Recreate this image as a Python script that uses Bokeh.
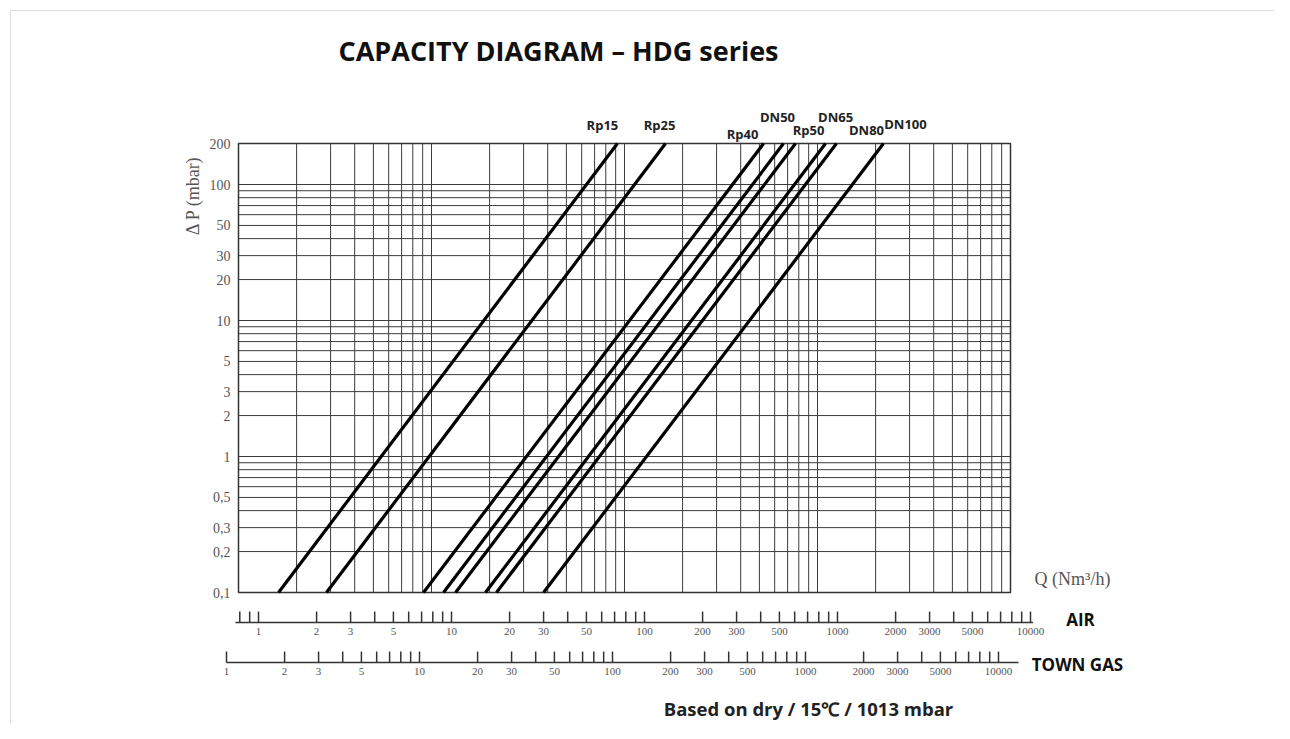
import numpy as np
from bokeh.plotting import figure
from bokeh.models import Range1d, LogScale, LinearScale, ColumnDataSource
from bokeh.embed import file_html
from bokeh.resources import INLINE
from bokeh.core.properties import value

# ---------------- data ----------------
series = ["Rp15", "Rp25", "Rp40", "DN50", "Rp50", "DN65", "DN80", "DN100"]
# AIR flow (Nm3/h) read at the two ends of each straight line
q_at_dp_min = [1.27, 2.25, 7.16, 9.09, 10.5, 15.0, 17.1, 30.0]
q_at_dp_max = [72.4, 128.5, 414, 525, 606, 867, 988, 1730]
dp_min, dp_max = 0.1, 200

dp_tick_values = [0.1, 0.2, 0.3, 0.5, 1, 2, 3, 5, 10, 20, 30, 50, 100, 200]
dp_tick_labels = ["0,1", "0,2", "0,3", "0,5", "1", "2", "3", "5", "10", "20", "30", "50", "100", "200"]
dp_grid = [0.2, 0.3, 0.4, 0.5, 0.6, 0.7, 0.8, 0.9,
           1, 2, 3, 4, 5, 6, 7, 8, 9,
           10, 20, 30, 40, 50, 60, 70, 80, 90, 100]
q_grid_min, q_grid_max = 1, 10000
q_grid = [2, 3, 4, 5, 6, 7, 8, 9,
          10, 20, 30, 40, 50, 60, 70, 80, 90,
          100, 200, 300, 400, 500, 600, 700, 800, 900,
          1000, 2000, 3000, 4000, 5000, 6000, 7000, 8000, 9000]

air_ticks = [0.8, 0.9, 1, 2, 3, 4, 5, 6, 7, 8, 9,
             10, 20, 30, 40, 50, 60, 70, 80, 90,
             100, 200, 300, 400, 500, 600, 700, 800, 900,
             1000, 2000, 3000, 4000, 5000, 6000, 7000, 8000, 9000, 10000]
air_label_values = [1, 2, 3, 5, 10, 20, 30, 50, 100, 200, 300, 500, 1000, 2000, 3000, 5000, 10000]
air_labels = [str(v) for v in air_label_values]
gas_ticks = [1, 2, 3, 4, 5, 6, 7, 8, 9,
             10, 20, 30, 40, 50, 60, 70, 80, 90,
             100, 200, 300, 400, 500, 600, 700, 800, 900,
             1000, 2000, 3000, 4000, 5000, 6000, 7000, 8000, 9000, 10000]
gas_label_values = [1, 2, 3, 5, 10, 20, 30, 50, 100, 200, 300, 500, 1000, 2000, 3000, 5000, 10000]
gas_labels = [str(v) for v in gas_label_values]

# ---------------- layout (pixels) ----------------
W, H = 1274, 723
PX_DEC_X = 193.0
AIR_ONE_X = 258.0     # canvas x of AIR = 1
GRID_ONE_X = 238.0    # canvas x of grid left border
GAS_ONE_X = 226.0     # canvas x of TOWN GAS = 1
PX_DEC_Y = 136.0
DP_MIN_Y = 131.0      # canvas y (from bottom) of 0.1 mbar

AIR_Y, GAS_Y, TICK_H = 101, 61, 11
air_line = (0.76, 10300)
gas_line = (1.0, 12700)

label_dx = [-15, -6, -21, -6, 13, 10, 30, 22]
label_y = [599, 599, 590, 607, 594, 607, 594, 600]


def log_range(one_px, per_dec, size):
    return Range1d(10 ** (-one_px / per_dec), 10 ** ((size - one_px) / per_dec))


p = figure(width=W, height=H, x_axis_type="log", y_axis_type="log",
           x_range=log_range(AIR_ONE_X, PX_DEC_X, W),
           y_range=Range1d(dp_min * 10 ** (-DP_MIN_Y / PX_DEC_Y),
                           dp_min * 10 ** ((H - DP_MIN_Y) / PX_DEC_Y)),
           output_backend="svg", toolbar_location=None,
           x_axis_location=None, y_axis_location=None,
           min_border=0)
p.extra_x_ranges = {"grid": log_range(GRID_ONE_X, PX_DEC_X, W),
                    "gas": log_range(GAS_ONE_X, PX_DEC_X, W),
                    "px": Range1d(0, W)}
p.extra_x_scales = {"grid": LogScale(), "gas": LogScale(), "px": LinearScale()}
p.extra_y_ranges = {"px": Range1d(0, H)}
p.extra_y_scales = {"px": LinearScale()}
p.grid.visible = False
p.outline_line_color = None
p.background_fill_color = "white"
p.border_fill_color = "white"

GRID_COLOR = "#3c3c3c"
serif = value("Liberation Serif")
sans = value("Open Sans")

# page frame lines (light)
p.segment(x0=[10, 10], y0=[H - 10, 0], x1=[W, 10], y1=[H - 10, H - 10],
          x_range_name="px", y_range_name="px", line_color="#dddddd", line_width=1)

# grid
p.segment(x0=q_grid, y0=dp_min, x1=q_grid, y1=dp_max, x_range_name="grid",
          line_color=GRID_COLOR, line_width=1)
p.segment(x0=q_grid_min, y0=dp_grid, x1=q_grid_max, y1=dp_grid, x_range_name="grid",
          line_color=GRID_COLOR, line_width=1)
p.quad(left=q_grid_min, right=q_grid_max, bottom=dp_min, top=dp_max, x_range_name="grid",
       fill_color=None, line_color="#333333", line_width=1.5)

# capacity lines
lines = ColumnDataSource(dict(xs=[[a, b] for a, b in zip(q_at_dp_min, q_at_dp_max)],
                              ys=[[dp_min, dp_max] for _ in series], name=series))
p.multi_line(xs="xs", ys="ys", source=lines, line_color="black", line_width=3.2)

# series labels
p.text(x=q_at_dp_max, y=label_y, text=series, x_offset=label_dx, y_range_name="px",
       text_align="center", text_baseline="middle", text_font=sans,
       text_font_size="13px", text_font_style="bold", text_color="#222222")

# y tick labels
p.text(x=q_grid_min, y=dp_tick_values, text=dp_tick_labels, x_offset=-8, x_range_name="grid",
       text_align="right", text_baseline="middle", text_font=serif,
       text_font_size="14px", text_color="#555555")

# AIR scale
p.segment(x0=air_line[0], y0=AIR_Y, x1=air_line[1], y1=AIR_Y, y_range_name="px",
          line_color="#333333", line_width=1.5)
p.segment(x0=air_ticks, y0=AIR_Y, x1=air_ticks, y1=AIR_Y + TICK_H, y_range_name="px",
          line_color="#333333", line_width=1.5)
p.text(x=air_label_values, y=AIR_Y - 5, text=air_labels, y_range_name="px",
       text_align="center", text_baseline="top", text_font=serif,
       text_font_size="11px", text_color="#555555")

# TOWN GAS scale
p.segment(x0=gas_line[0], y0=GAS_Y, x1=gas_line[1], y1=GAS_Y, y_range_name="px",
          x_range_name="gas", line_color="#333333", line_width=1.5)
p.segment(x0=gas_ticks, y0=GAS_Y, x1=gas_ticks, y1=GAS_Y + TICK_H, y_range_name="px",
          x_range_name="gas", line_color="#333333", line_width=1.5)
p.text(x=gas_label_values, y=GAS_Y - 5, text=gas_labels, y_range_name="px",
       x_range_name="gas", text_align="center", text_baseline="top", text_font=serif,
       text_font_size="11px", text_color="#555555")

# texts
def px_text(x, y, t, size, font, style="normal", color="#222222", align="center", angle=0.0):
    p.text(x=[x], y=[y], text=[t], x_range_name="px", y_range_name="px",
           text_align=align, text_baseline="middle", text_font=font,
           text_font_size=size, text_font_style=style, text_color=color, angle=angle)

px_text(558, 673, "CAPACITY DIAGRAM – HDG series", "27px", sans, "bold", "#111111")
px_text(192, 528, "Δ P (mbar)", "18px", serif, "normal", "#555555", angle=np.pi / 2)
px_text(1072, 145, "Q (Nm³/h)", "18px", serif, "normal", "#555555")
px_text(1080, 104, "AIR", "17px", sans, "bold", "#111111")
px_text(1077, 59, "TOWN GAS", "17px", sans, "bold", "#111111")
px_text(808, 15, "Based on dry / 15℃ / 1013 mbar", "18.5px", sans, "bold", "#222222")

open("out.html", "w").write(file_html(p, INLINE))
